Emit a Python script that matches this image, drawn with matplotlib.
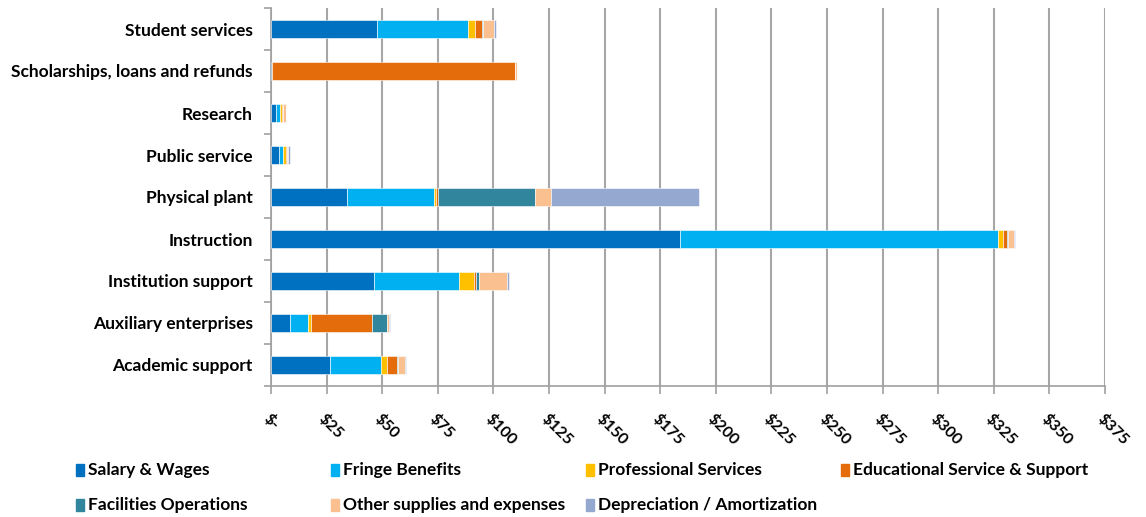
import numpy as np
import matplotlib.pyplot as plt
from matplotlib.patches import Rectangle

# categories from bottom to top
categories = ["Academic support", "Auxiliary enterprises", "Institution support",
              "Instruction", "Physical plant", "Public service", "Research",
              "Scholarships, loans and refunds", "Student services"]

series_names = ["Salary & Wages", "Fringe Benefits", "Professional Services",
                "Educational Service & Support", "Facilities Operations",
                "Other supplies and expenses", "Depreciation / Amortization"]
colors = ["#0070C0", "#00B0F0", "#FFC000", "#E46C0A", "#31859C", "#FAC090", "#95A9D0"]

salary       = [26.7,  8.7, 46.5, 184.0, 34.0, 3.6, 2.2,   0.6, 47.7]
fringe       = [22.9,  8.1, 38.2, 143.0, 39.4, 1.8, 1.9,   0.0, 41.0]
professional = [ 2.7,  1.2,  6.4,   2.1,  1.0, 1.3, 1.0,   0.0,  3.1]
educational  = [ 4.2, 27.3,  1.3,   1.8,  0.9, 0.4, 0.3, 109.3,  3.0]
facilities   = [ 0.7,  6.7,  1.2,   0.4, 43.5, 0.0, 0.0,   0.0,  0.4]
other        = [ 3.0,  0.9, 12.7,   2.8,  7.0, 0.5, 1.2,   0.9,  5.2]
depreciation = [ 0.7,  0.6,  0.6,   0.4, 66.7, 0.9, 0.2,   0.0,  0.6]

series = [salary, fringe, professional, educational, facilities, other, depreciation]

xticks = np.arange(0, 376, 25)
xlabels = ["$-"] + ["$%d" % v for v in xticks[1:]]

plt.rcParams['font.family'] = ["Lato", "DejaVu Sans"]

fig = plt.figure(figsize=(11.46, 5.17), dpi=100)
W, H = 1146, 517
ax = fig.add_axes([271 / W, 1 - 386 / H, (1105 - 271) / W, (386 - 8) / H])

y = np.arange(len(categories))
left = np.zeros(len(categories))
for vals, name, col in zip(series, series_names, colors):
    vals = np.array(vals)
    ax.barh(y, vals, left=left, height=0.42, color=col, label=name,
            edgecolor="white", linewidth=0.4, zorder=3)
    left += vals

ax.set_xlim(0, 375)
ax.set_ylim(-0.5, len(categories) - 0.5)
ax.set_xticks(xticks)
ax.set_xticklabels(xlabels, rotation=-45, ha="left", va="top",
                   rotation_mode="anchor", fontsize=11.5, fontweight="bold")
ax.set_yticks(y)
ax.set_yticklabels(categories, fontsize=12.5, fontweight="bold")
ax.set_yticks(np.arange(-0.5, len(categories), 1), minor=True)
ax.tick_params(axis="y", which="major", length=0, pad=13)
ax.tick_params(axis="y", which="minor", length=5, color="#A0A0A0", width=1.2)
ax.tick_params(axis="x", length=6, color="#A0A0A0", width=1.2, pad=12)

ax.grid(axis="x", color="#A6A6A6", linewidth=1.5, zorder=0)
for s in ["top", "right"]:
    ax.spines[s].set_visible(False)
for s in ["left", "bottom"]:
    ax.spines[s].set_color("#A0A0A0")
    ax.spines[s].set_linewidth(1.2)

# legend laid out like the original (4 columns, 2 rows)
for i, (name, col) in enumerate(zip(series_names, colors)):
    c, r = i % 4, i // 4
    x0 = 76 + c * 255
    y0 = 470 + r * 35
    fig.patches.append(Rectangle((x0 / W, 1 - (y0 + 6) / H), 8 / W, 12 / H,
                                 transform=fig.transFigure, color=col))
    fig.text((x0 + 12) / W, 1 - y0 / H, name, fontsize=12.5, fontweight="bold",
             va="center", ha="left")

fig.savefig("out.png", dpi=100)
